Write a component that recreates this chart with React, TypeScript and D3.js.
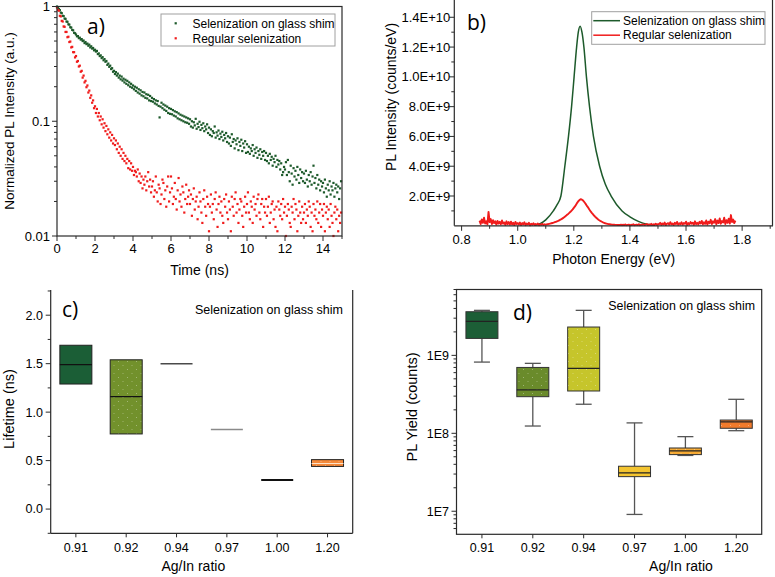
import React from 'react';
import * as d3 from 'd3';

const FONT = '"Liberation Sans", Arial, sans-serif';
const LABEL_FONT = '"Open Sans", "Noto Sans", sans-serif';
const AXIS = '#2a2a2a';
const GREEN = '#1d5a2b';
const RED = '#f01c1c';

// ---- a) PL decay, one point every 0.05 ns ----
const decayStep = 0.05;
const glassShimDecay = [
  1.0, 0.985, 0.95, 0.93, 0.885, 0.875, 0.83, 0.825, 0.785, 0.78, 0.74, 0.735, 0.7, 0.695, 0.66, 0.655, 0.625, 0.62, 0.59, 0.585,
  0.57, 0.55, 0.552, 0.53, 0.535, 0.515, 0.52, 0.5, 0.505, 0.48, 0.49, 0.47, 0.475, 0.455, 0.465, 0.44, 0.45, 0.43, 0.435, 0.415,
  0.42, 0.405, 0.41, 0.385, 0.39, 0.37, 0.375, 0.355, 0.362, 0.34, 0.348, 0.33, 0.335, 0.31, 0.318, 0.298, 0.305, 0.285, 0.29, 0.27,
  0.275, 0.258, 0.268, 0.25, 0.26, 0.24, 0.25, 0.232, 0.245, 0.226, 0.235, 0.218, 0.23, 0.212, 0.225, 0.206, 0.218, 0.2, 0.212, 0.196,
  0.205, 0.19, 0.2, 0.184, 0.196, 0.178, 0.19, 0.174, 0.186, 0.168, 0.18, 0.165, 0.178, 0.16, 0.172, 0.158, 0.17, 0.152, 0.166, 0.15,
  0.16, 0.148, 0.156, 0.143, 0.152, 0.14, 0.15, 0.136, 0.108, 0.134, 0.145, 0.13, 0.14, 0.126, 0.137, 0.123, 0.134, 0.118, 0.13, 0.116,
  0.128, 0.115, 0.125, 0.112, 0.122, 0.11, 0.12, 0.106, 0.117, 0.104, 0.114, 0.102, 0.112, 0.1, 0.11, 0.098, 0.108, 0.097, 0.106, 0.095,
  0.104, 0.09, 0.1, 0.088, 0.098, 0.092, 0.105, 0.086, 0.095, 0.089, 0.099, 0.084, 0.093, 0.087, 0.096, 0.082, 0.09, 0.085, 0.094, 0.079,
  0.088, 0.076, 0.085, 0.074, 0.082, 0.079, 0.09, 0.072, 0.08, 0.075, 0.083, 0.07, 0.078, 0.073, 0.081, 0.068, 0.076, 0.071, 0.079, 0.066,
  0.074, 0.064, 0.072, 0.061, 0.077, 0.066, 0.07, 0.058, 0.068, 0.063, 0.071, 0.056, 0.066, 0.061, 0.069, 0.055, 0.064, 0.059, 0.067, 0.053,
  0.063, 0.054, 0.06, 0.052, 0.058, 0.055, 0.062, 0.05, 0.057, 0.053, 0.059, 0.048, 0.055, 0.051, 0.057, 0.047, 0.054, 0.05, 0.055, 0.046,
  0.053, 0.045, 0.05, 0.043, 0.052, 0.046, 0.049, 0.041, 0.047, 0.044, 0.05, 0.04, 0.046, 0.042, 0.045, 0.038, 0.043, 0.034, 0.036, 0.04,
  0.038, 0.044, 0.034, 0.046, 0.036, 0.03, 0.041, 0.035, 0.028, 0.039, 0.033, 0.037, 0.031, 0.04, 0.034, 0.029, 0.038, 0.032, 0.036, 0.03,
  0.035, 0.029, 0.037, 0.031, 0.027, 0.034, 0.03, 0.036, 0.028, 0.033, 0.041, 0.029, 0.032, 0.026, 0.034, 0.028, 0.031, 0.025, 0.03, 0.027,
  0.029, 0.024, 0.031, 0.026, 0.022, 0.028, 0.025, 0.03, 0.023, 0.027, 0.025, 0.029, 0.022, 0.026, 0.028, 0.024, 0.027, 0.021, 0.026, 0.03,
];
const regularDecay = [
  0.98, 0.93, 0.92, 0.83, 0.82, 0.75, 0.74, 0.67, 0.665, 0.6, 0.6, 0.54, 0.545, 0.49, 0.495, 0.44, 0.445, 0.4, 0.4, 0.36,
  0.37, 0.33, 0.335, 0.3, 0.305, 0.27, 0.275, 0.24, 0.25, 0.218, 0.225, 0.198, 0.205, 0.178, 0.185, 0.16, 0.168, 0.145, 0.152, 0.13,
  0.135, 0.118, 0.128, 0.11, 0.118, 0.102, 0.11, 0.094, 0.104, 0.088, 0.096, 0.082, 0.091, 0.077, 0.085, 0.072, 0.08, 0.068, 0.076, 0.064,
  0.071, 0.062, 0.068, 0.057, 0.064, 0.053, 0.06, 0.05, 0.057, 0.047, 0.053, 0.045, 0.05, 0.043, 0.047, 0.039, 0.045, 0.038, 0.043, 0.037,
  0.04, 0.034, 0.037, 0.036, 0.033, 0.038, 0.03, 0.035, 0.029, 0.033, 0.026, 0.031, 0.028, 0.033, 0.025, 0.03, 0.036, 0.027, 0.031, 0.024,
  0.027, 0.03, 0.022, 0.025, 0.033, 0.024, 0.02, 0.028, 0.026, 0.019, 0.023, 0.031, 0.029, 0.021, 0.025, 0.018, 0.027, 0.033, 0.02, 0.024,
  0.033, 0.026, 0.019, 0.022, 0.029, 0.021, 0.017, 0.025, 0.032, 0.02, 0.023, 0.018, 0.027, 0.024, 0.016, 0.021, 0.028, 0.019, 0.022, 0.025,
  0.019, 0.023, 0.015, 0.021, 0.026, 0.017, 0.02, 0.022, 0.014, 0.018, 0.024, 0.02, 0.016, 0.013, 0.021, 0.025, 0.018, 0.015, 0.022, 0.019,
  0.011, 0.018, 0.023, 0.016, 0.019, 0.014, 0.021, 0.024, 0.017, 0.012, 0.019, 0.022, 0.016, 0.02, 0.015, 0.013, 0.021, 0.018, 0.023, 0.016,
  0.014, 0.02, 0.017, 0.011, 0.022, 0.018, 0.015, 0.021, 0.024, 0.016, 0.019, 0.013, 0.017, 0.021, 0.02, 0.015, 0.012, 0.018, 0.022, 0.016,
  0.019, 0.024, 0.016, 0.014, 0.02, 0.018, 0.013, 0.022, 0.017, 0.019, 0.015, 0.021, 0.023, 0.016, 0.014, 0.019, 0.021, 0.012, 0.018, 0.016,
  0.021, 0.015, 0.018, 0.022, 0.013, 0.016, 0.019, 0.02, 0.014, 0.017, 0.012, 0.018, 0.011, 0.02, 0.017, 0.015, 0.019, 0.014, 0.021, 0.016,
  0.018, 0.01, 0.015, 0.019, 0.017, 0.013, 0.012, 0.018, 0.016, 0.021, 0.014, 0.019, 0.017, 0.011, 0.015, 0.02, 0.016, 0.013, 0.018, 0.014,
  0.016, 0.019, 0.013, 0.017, 0.015, 0.02, 0.018, 0.012, 0.016, 0.011, 0.019, 0.015, 0.017, 0.014, 0.02, 0.013, 0.016, 0.019, 0.012, 0.017,
  0.015, 0.019, 0.011, 0.016, 0.018, 0.014, 0.017, 0.012, 0.019, 0.015, 0.013, 0.01, 0.016, 0.018, 0.014, 0.017, 0.011, 0.015, 0.013, 0.016,
];
const aXTicks = [0, 2, 4, 6, 8, 10, 12, 14];
const aYTicks = [0.01, 0.1, 1];
const aYTickLabels = ['0.01', '0.1', '1'];

// ---- b) PL spectra, intensity in units of 1E9 counts/eV ----
const glassShimEnergy = [1.06, 1.08, 1.1, 1.127, 1.14, 1.154, 1.168, 1.181, 1.192, 1.201, 1.21, 1.216, 1.2225, 1.229, 1.236, 1.245, 1.256, 1.27, 1.292, 1.312, 1.333, 1.372, 1.4, 1.43, 1.46, 1.49];
const glassShimPL = [0.03, 0.15, 0.4, 1.0, 1.4, 2.0, 4.0, 6.0, 8.0, 10.0, 12.0, 13.0, 13.4, 13.0, 12.0, 10.0, 8.0, 6.0, 4.0, 2.8, 2.0, 1.0, 0.6, 0.3, 0.1, 0.03];
const regularStart = 0.864;
const regularStep = 0.004;
const regularPL = [
  0.35, 0.12, 0.42, 0.2, 0.55, 0.15, 0.3, 0.1, 0.93, 0.25, 0.45, 0.12, 0.38, 0.18, 0.3, 0.08, 0.33, 0.15, 0.27, 0.1, 0.36, 0.14, 0.22, 0.06, 0.3, 0.12, 0.25, 0.08, 0.28, 0.1, 0.2, 0.05, 0.26, 0.12, 0.18,
  0.08, 0.22, 0.05, 0.18, 0.1, 0.24, 0.04, 0.15, 0.09, 0.2, 0.03, 0.14, 0.07, 0.17, 0.05, 0.12, 0.08, 0.15, 0.04, 0.1, 0.06, 0.13, 0.05, 0.1, 0.08,
  0.1, 0.11, 0.13, 0.15, 0.17, 0.19, 0.21, 0.24, 0.27, 0.3, 0.33, 0.37, 0.41, 0.45, 0.5, 0.55, 0.61, 0.67, 0.74, 0.8,
  0.87, 0.94, 1.02, 1.1, 1.2, 1.3, 1.42, 1.54, 1.65, 1.73, 1.78, 1.77, 1.72, 1.63, 1.53, 1.42, 1.3, 1.2, 1.08, 0.97,
  0.87, 0.78, 0.69, 0.61, 0.54, 0.47, 0.41, 0.36, 0.31, 0.27, 0.23, 0.2, 0.17, 0.15, 0.13, 0.11, 0.1, 0.09, 0.08, 0.07, 0.07, 0.06, 0.06, 0.05, 0.05,
  0.05, 0.08, 0.04, 0.07, 0.05, 0.09, 0.04, 0.06, 0.08, 0.03, 0.07, 0.05, 0.1, 0.04, 0.06, 0.08, 0.05, 0.11, 0.04, 0.07, 0.06, 0.1, 0.05, 0.08, 0.12, 0.04, 0.09, 0.06, 0.13, 0.05, 0.1, 0.07, 0.14, 0.06, 0.11,
  0.12, 0.2, 0.06, 0.16, 0.09, 0.22, 0.05, 0.14, 0.18, 0.08, 0.24, 0.1, 0.15, 0.06, 0.2, 0.12, 0.26, 0.07, 0.17, 0.11,
  0.23, 0.08, 0.19, 0.13, 0.28, 0.06, 0.18, 0.1, 0.25, 0.14, 0.21, 0.07, 0.3, 0.12, 0.2, 0.09, 0.27, 0.15, 0.33, 0.1,
  0.24, 0.13, 0.36, 0.08, 0.28, 0.17, 0.4, 0.12, 0.3, 0.2, 0.45, 0.1, 0.35, 0.18, 0.5, 0.14, 0.32, 0.22, 0.55, 0.12,
  0.38, 0.2, 0.48, 0.15, 0.72, 0.25, 0.42, 0.18, 0.35,
];
const bXTicks = [0.8, 1.0, 1.2, 1.4, 1.6, 1.8];
const bYTicks = [2, 4, 6, 8, 10, 12, 14];
const bYTickLabels = ['2.0E+9', '4.0E+9', '6.0E+9', '8.0E+9', '1.0E+10', '1.2E+10', '1.4E+10'];

// ---- c) lifetime and d) PL yield vs Ag/In ratio ----
const ratios = ['0.91', '0.92', '0.94', '0.97', '1.00', '1.20'];
const lifeQ1 = [1.29, 0.775, 1.5, 0.82, 0.3, 0.44];
const lifeMedian = [1.49, 1.16, 1.5, 0.82, 0.3, 0.47];
const lifeQ3 = [1.69, 1.54, 1.5, 0.82, 0.3, 0.51];
const lifeColors = ['#1b5e36', '#72912c', '#4a4a4a', '#8a8a8a', '#111111', '#f5893a'];
const lifeDotted = [false, true, false, false, false, true];
const cYTicks = [0, 0.5, 1.0, 1.5, 2.0];

const yieldMin = [8.2e8, 1.24e8, 2.36e8, 9.1e6, 5.2e7, 1.08e8];
const yieldQ1 = [1.65e9, 2.95e8, 3.49e8, 2.78e7, 5.33e7, 1.16e8];
const yieldMedian = [2.73e9, 3.6e8, 6.8e8, 3.1e7, 5.94e7, 1.4e8];
const yieldQ3 = [3.63e9, 7.0e8, 2.31e9, 3.78e7, 6.48e7, 1.48e8];
const yieldMax = [3.78e9, 7.9e8, 3.78e9, 1.36e8, 9.06e7, 2.73e8];
const yieldColors = ['#1c5e36', '#6a8b2b', '#c6c52b', '#f3c430', '#f6aa33', '#f27b2c'];
const yieldDotted = [false, true, true, false, true, true];
const dYTicks = [1e7, 1e8, 1e9];
const dYTickLabels = ['1E7', '1E8', '1E9'];

const legendNames = ['Selenization on glass shim', 'Regular selenization'];

function logMinors(lo: number, hi: number) {
  const out: number[] = [];
  for (let e = Math.floor(Math.log10(lo)); e <= Math.ceil(Math.log10(hi)); e++) {
    for (let k = 1; k < 10; k++) {
      const v = k * Math.pow(10, e);
      if (v >= lo && v <= hi) out.push(v);
    }
  }
  return out;
}

function PanelA() {
  const x = d3.scaleLinear().domain([0, 15]).range([57, 342]);
  const y = d3.scaleLog().domain([0.01, 1]).range([236, 6.5]);
  const [x0, x1] = x.range();
  const [y0, y1] = y.range();
  const xMinor = d3.range(0, 16, 1);
  const yMinor = logMinors(0.01, 1);
  const dot = (v: number, i: number, c: string) => (
    <rect key={i} x={x(i * decayStep) - 1.1} y={y(v) - 1.1} width={2.2} height={2.2} fill={c} />
  );
  return (
    <g fontFamily={FONT}>
      <g>{glassShimDecay.map((v, i) => dot(v, i, GREEN))}</g>
      <g>{regularDecay.map((v, i) => dot(v, i, RED))}</g>
      <rect x={x0} y={y1} width={x1 - x0} height={y0 - y1} fill="none" stroke={AXIS} strokeWidth={1.2} />
      {xMinor.map((t) => (
        <line key={t} x1={x(t)} x2={x(t)} y1={y0} y2={y0 + (t % 2 === 0 ? 5 : 3)} stroke={AXIS} />
      ))}
      {aXTicks.map((t) => (
        <text key={t} x={x(t)} y={y0 + 12} dy="0.35em" textAnchor="middle" fontSize={13}>{t}</text>
      ))}
      {yMinor.map((v, i) => (
        <line key={i} x1={x0} x2={x0 - (aYTicks.includes(v) ? 5 : 3)} y1={y(v)} y2={y(v)} stroke={AXIS} />
      ))}
      {aYTicks.map((v, i) => (
        <text key={v} x={x0 - 7} y={y(v)} dy="0.35em" textAnchor="end" fontSize={13}>{aYTickLabels[i]}</text>
      ))}
      <text x={199.5} y={270} dy="0.35em" textAnchor="middle" fontSize={14}>Time (ns)</text>
      <text transform="translate(9.5,121) rotate(-90)" dy="0.35em" textAnchor="middle" fontSize={13.5}>Normalized PL Intensity (a.u.)</text>
      <text x={87} y={27} dy="0.35em" fontSize={21} fontFamily={LABEL_FONT}>a)</text>
      <rect x={161} y={14} width={174} height={32} fill="white" stroke="#a0a0a0" />
      {legendNames.map((n, i) => (
        <g key={n}>
          <rect x={174.6} y={22.2 + i * 15} width={2.2} height={2.2} fill={i === 0 ? GREEN : RED} />
          <text x={192.5} y={23.3 + i * 15} dy="0.35em" fontSize={12}>{n}</text>
        </g>
      ))}
    </g>
  );
}

function PanelB() {
  const x = d3.scaleLinear().domain([0.774, 1.91]).range([454.3, 773]);
  const y = d3.scaleLinear().domain([0, 15.16]).range([225.8, 0]);
  const [x0, x1] = x.range();
  const y0 = y.range()[0];
  const greenLine = d3.line<number>()
    .x((_, i) => x(glassShimEnergy[i]))
    .y((v) => y(v))
    .curve(d3.curveMonotoneX)(glassShimPL);
  const redLine = d3.line<number>()
    .x((_, i) => x(regularStart + i * regularStep))
    .y((v) => y(v))(regularPL);
  const xMinor = d3.range(0.8, 1.91, 0.1);
  const yMinor = d3.range(1, 15, 1);
  return (
    <g fontFamily={FONT}>
      <path d={greenLine ?? ''} fill="none" stroke={GREEN} strokeWidth={1.5} />
      <path d={redLine ?? ''} fill="none" stroke={RED} strokeWidth={1.9} strokeLinejoin="round" />
      <line x1={x0} x2={x0} y1={0} y2={y0} stroke={AXIS} strokeWidth={1.2} />
      <line x1={x0} x2={x1} y1={y0} y2={y0} stroke={AXIS} strokeWidth={1.2} />
      <line x1={x1 - 0.5} x2={x1 - 0.5} y1={0} y2={y0} stroke={AXIS} strokeWidth={1.2} />
      {xMinor.map((t, i) => (
        <line key={i} x1={x(t)} x2={x(t)} y1={y0} y2={y0 + (i % 2 === 0 ? 5 : 3)} stroke={AXIS} />
      ))}
      {bXTicks.map((t) => (
        <text key={t} x={x(t)} y={y0 + 14} dy="0.35em" textAnchor="middle" fontSize={13}>{t.toFixed(1)}</text>
      ))}
      {yMinor.map((v) => (
        <line key={v} x1={x0} x2={x0 - (v % 2 === 0 ? 5 : 3)} y1={y(v)} y2={y(v)} stroke={AXIS} />
      ))}
      {bYTicks.map((v, i) => (
        <text key={v} x={x0 - 4} y={y(v)} dy="0.35em" textAnchor="end" fontSize={13}>{bYTickLabels[i]}</text>
      ))}
      <text x={613.7} y={259} dy="0.35em" textAnchor="middle" fontSize={14}>Photon Energy (eV)</text>
      <text transform="translate(391,97) rotate(-90)" dy="0.35em" textAnchor="middle" fontSize={14}>PL Intensity (counts/eV)</text>
      <text x={467} y={23} dy="0.35em" fontSize={21} fontFamily={LABEL_FONT}>b)</text>
      <rect x={591.7} y={11.7} width={173.3} height={32.6} fill="white" stroke="#a0a0a0" />
      {legendNames.map((n, i) => (
        <g key={n}>
          <line x1={593.3} x2={620} y1={20.7 + i * 14.5} y2={20.7 + i * 14.5} stroke={i === 0 ? GREEN : RED} strokeWidth={1.5} />
          <text x={623} y={20.7 + i * 14.5} dy="0.35em" fontSize={12}>{n}</text>
        </g>
      ))}
    </g>
  );
}

function PanelC() {
  const x = d3.scaleBand().domain(ratios).range([50.7, 352.7]);
  const y = d3.scaleLinear().domain([-0.25, 2.26]).range([533.3, 290]);
  const [x0, x1] = x.range();
  const [y0, y1] = y.range();
  const bw = 32;
  const cx = (r: string) => (x(r) ?? 0) + x.bandwidth() / 2;
  const yMinor = d3.range(-0.25, 2.26, 0.25);
  return (
    <g fontFamily={FONT}>
      {ratios.map((r, i) => {
        const c = cx(r);
        if (lifeQ1[i] === lifeQ3[i]) {
          return (
            <line key={r} x1={c - bw / 2} x2={c + bw / 2} y1={y(lifeMedian[i])} y2={y(lifeMedian[i])}
              stroke={lifeColors[i]} strokeWidth={i === 4 ? 2 : 1.5} />
          );
        }
        const bx = c - bw / 2;
        const by = y(lifeQ3[i]);
        const bh = y(lifeQ1[i]) - by;
        return (
          <g key={r}>
            <rect x={bx} y={by} width={bw} height={bh} fill={lifeColors[i]} />
            {lifeDotted[i] && <rect x={bx} y={by} width={bw} height={bh} fill="url(#speckle)" />}
            <rect x={bx} y={by} width={bw} height={bh} fill="none" stroke="#222" strokeWidth={1} />
            <line x1={bx} x2={bx + bw} y1={y(lifeMedian[i])} y2={y(lifeMedian[i])}
              stroke={i === 5 ? '#fde2c8' : '#111'} strokeWidth={1.2} />
          </g>
        );
      })}
      <line x1={x0} x2={x0} y1={y1} y2={y0} stroke={AXIS} strokeWidth={1.2} />
      <line x1={x1} x2={x1} y1={y1} y2={y0} stroke={AXIS} strokeWidth={1.2} />
      <line x1={x0} x2={x1} y1={y0} y2={y0} stroke={AXIS} strokeWidth={1.2} />
      {ratios.map((r) => (
        <g key={r}>
          <line x1={cx(r)} x2={cx(r)} y1={y0} y2={y0 + 4} stroke={AXIS} />
          <text x={cx(r)} y={547.3} dy="0.35em" textAnchor="middle" fontSize={12.5}>{r}</text>
        </g>
      ))}
      {yMinor.map((v, i) => (
        <line key={i} x1={x0} x2={x0 - (i % 2 === 1 ? 5 : 3)} y1={y(v)} y2={y(v)} stroke={AXIS} />
      ))}
      {cYTicks.map((v) => (
        <text key={v} x={43} y={y(v)} dy="0.35em" textAnchor="end" fontSize={12.5}>{v.toFixed(1)}</text>
      ))}
      <text x={193.3} y={566} dy="0.35em" textAnchor="middle" fontSize={14}>Ag/In ratio</text>
      <text transform="translate(9,409) rotate(-90)" dy="0.35em" textAnchor="middle" fontSize={14.5}>Lifetime (ns)</text>
      <text x={62} y={310} dy="0.35em" fontSize={21} fontFamily={LABEL_FONT}>c)</text>
      <text x={195} y={310} dy="0.35em" fontSize={12.5}>{legendNames[0]}</text>
    </g>
  );
}

function PanelD() {
  const x = d3.scaleBand().domain(ratios).range([456.5, 761.7]);
  const y = d3.scaleLog().domain([5.06e6, 7.0e9]).range([534.3, 289.5]);
  const [x0, x1] = x.range();
  const [y0, y1] = y.range();
  const bw = 32;
  const cap = 16;
  const cx = (r: string) => (x(r) ?? 0) + x.bandwidth() / 2;
  const [lo, hi] = y.domain();
  const yMinor = logMinors(lo, hi);
  return (
    <g fontFamily={FONT}>
      {ratios.map((r, i) => {
        const c = cx(r);
        const bx = c - bw / 2;
        const by = y(yieldQ3[i]);
        const bh = y(yieldQ1[i]) - by;
        return (
          <g key={r}>
            <line x1={c} x2={c} y1={y(yieldMax[i])} y2={y(yieldQ3[i])} stroke="#555" strokeWidth={1.3} />
            <line x1={c} x2={c} y1={y(yieldQ1[i])} y2={y(yieldMin[i])} stroke="#555" strokeWidth={1.3} />
            <line x1={c - cap / 2} x2={c + cap / 2} y1={y(yieldMax[i])} y2={y(yieldMax[i])} stroke="#555" strokeWidth={1.3} />
            <line x1={c - cap / 2} x2={c + cap / 2} y1={y(yieldMin[i])} y2={y(yieldMin[i])} stroke="#555" strokeWidth={1.3} />
            <rect x={bx} y={by} width={bw} height={bh} fill={yieldColors[i]} />
            {yieldDotted[i] && <rect x={bx} y={by} width={bw} height={bh} fill="url(#speckle)" />}
            <rect x={bx} y={by} width={bw} height={bh} fill="none" stroke="#333" strokeWidth={1} />
            <line x1={bx} x2={bx + bw} y1={y(yieldMedian[i])} y2={y(yieldMedian[i])} stroke="#222" strokeWidth={1.2} />
          </g>
        );
      })}
      <rect x={x0} y={y1} width={x1 - x0} height={y0 - y1} fill="none" stroke={AXIS} strokeWidth={1.2} />
      {ratios.map((r) => (
        <g key={r}>
          <line x1={cx(r)} x2={cx(r)} y1={y0} y2={y0 + 4} stroke={AXIS} />
          <text x={cx(r)} y={547.3} dy="0.35em" textAnchor="middle" fontSize={12.5}>{r}</text>
        </g>
      ))}
      {yMinor.map((v, i) => (
        <line key={i} x1={x0} x2={x0 - (dYTicks.includes(v) ? 5 : 3)} y1={y(v)} y2={y(v)} stroke={AXIS} />
      ))}
      {dYTicks.map((v, i) => (
        <text key={v} x={449} y={y(v)} dy="0.35em" textAnchor="end" fontSize={12.5}>{dYTickLabels[i]}</text>
      ))}
      <text x={681} y={566} dy="0.35em" textAnchor="middle" fontSize={14}>Ag/In ratio</text>
      <text transform="translate(412,407) rotate(-90)" dy="0.35em" textAnchor="middle" fontSize={14.5}>PL Yield (counts)</text>
      <text x={513} y={313} dy="0.35em" fontSize={21} fontFamily={LABEL_FONT}>d)</text>
      <text x={608.3} y={305.7} dy="0.35em" fontSize={12.4}>{legendNames[0]}</text>
    </g>
  );
}

export default function App() {
  return (
    <svg width={775} height={577} style={{ position: 'absolute', left: 0, top: 0, background: 'white' }}>
      <defs>
        <pattern id="speckle" width={9} height={8} patternUnits="userSpaceOnUse">
          <rect x={1} y={1} width={1} height={1} fill="#ffffff" opacity={0.35} />
          <rect x={5.5} y={5} width={1} height={1} fill="#ffffff" opacity={0.3} />
        </pattern>
      </defs>
      <rect width={775} height={577} fill="white" />
      <PanelA />
      <PanelB />
      <PanelC />
      <PanelD />
    </svg>
  );
}
